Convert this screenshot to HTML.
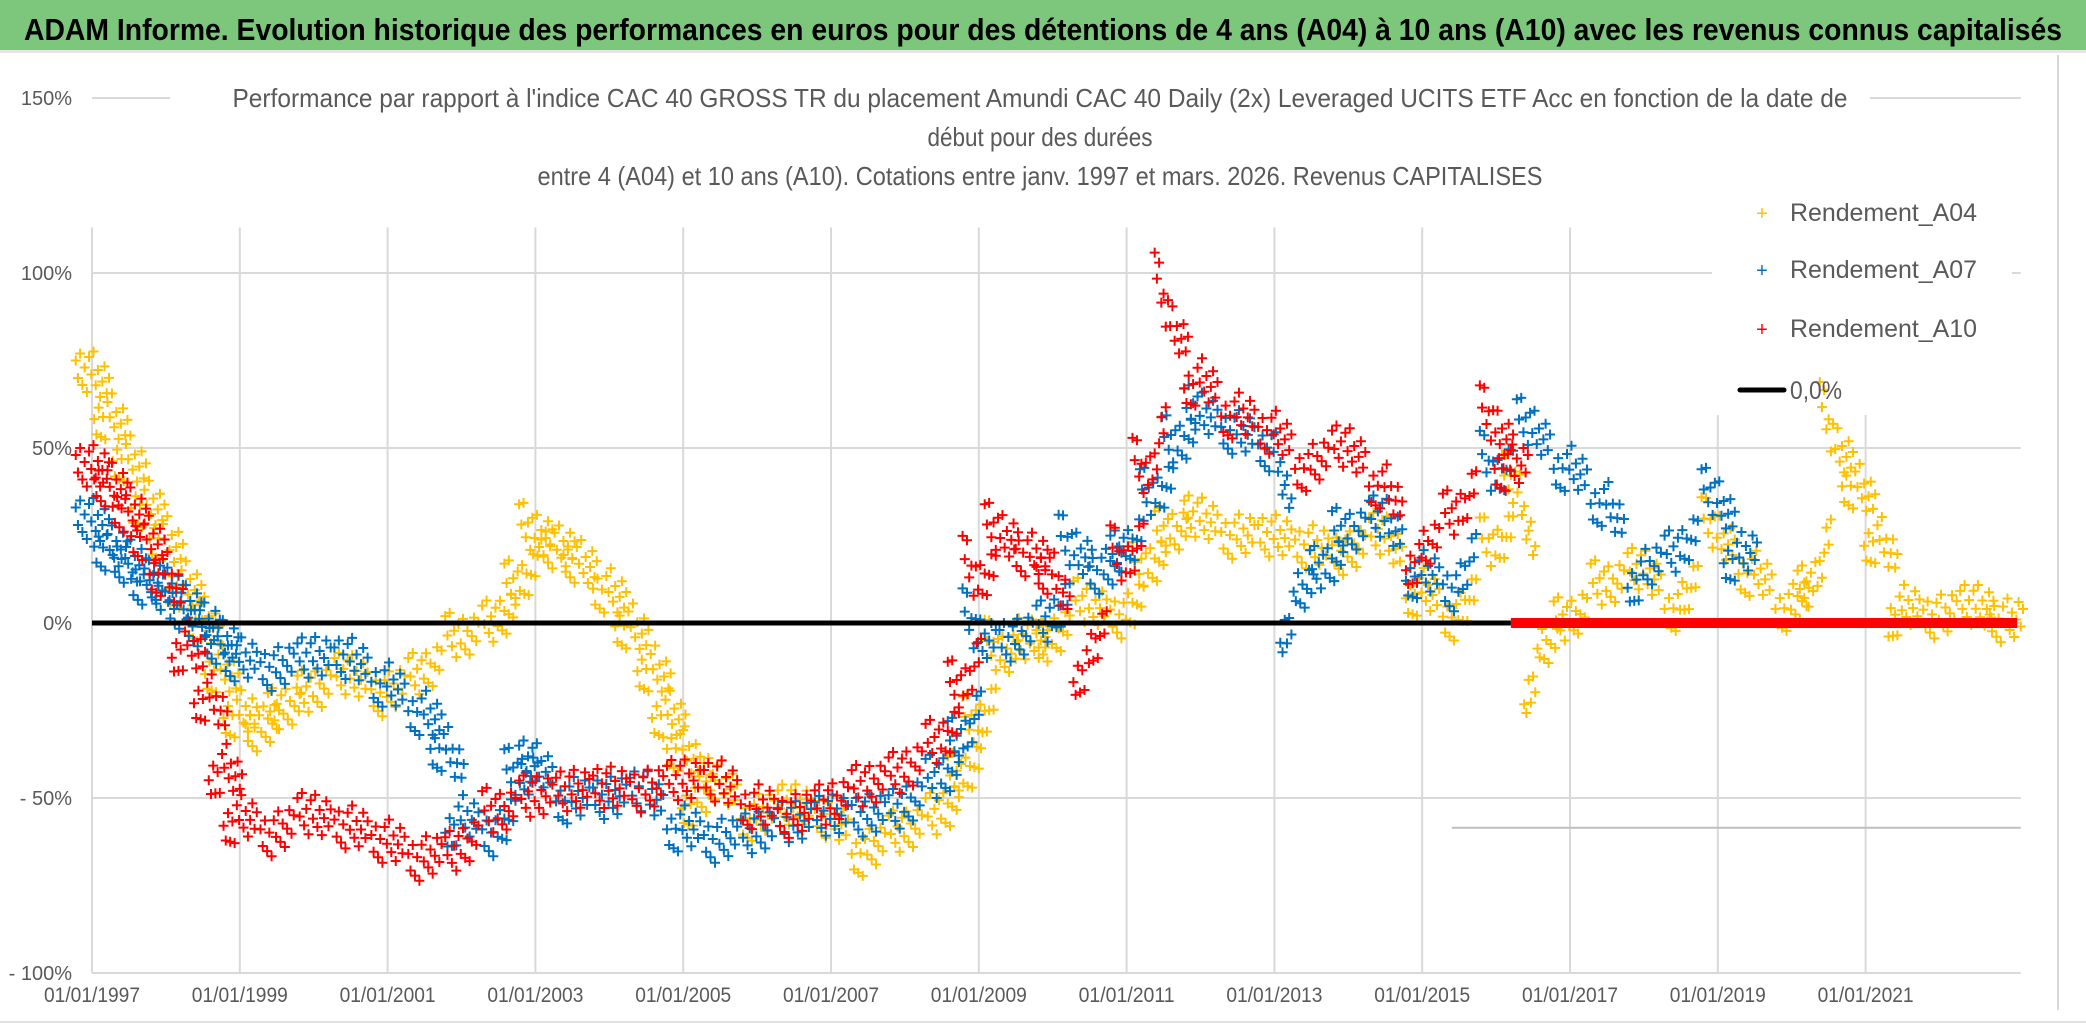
<!DOCTYPE html>
<html><head><meta charset="utf-8"><style>
html,body{margin:0;padding:0;background:#fff;}
svg{display:block;font-family:"Liberation Sans",sans-serif;}
</style></head><body>
<svg id="chart" width="2086" height="1031" viewBox="0 0 2086 1031">
<rect x="0" y="0" width="2086" height="1031" fill="#fff"/>
<rect x="0" y="0" width="2086" height="50" fill="#7dc77c"/>
<rect x="0" y="50" width="2086" height="3" fill="#e6e6e6"/>
<text x="24" y="40" font-size="31" font-weight="bold" fill="#000" textLength="2038" lengthAdjust="spacingAndGlyphs">ADAM Informe. Evolution historique des performances en euros pour des détentions de 4 ans (A04) à 10 ans (A10) avec les revenus connus capitalisés</text>
<g id="grid"></g>
<rect x="170" y="75" width="1700" height="120" fill="#fff"/>
<rect x="1712" y="180" width="300" height="235" fill="#fff"/>
<g id="marks"></g>
<g id="axes"></g>
<g fill="#595959" font-size="26" text-anchor="middle">
<text x="1040" y="107" textLength="1615" lengthAdjust="spacingAndGlyphs">Performance par rapport à l'indice CAC 40 GROSS TR  du placement Amundi CAC 40 Daily (2x) Leveraged UCITS ETF Acc en fonction de la date de</text>
<text x="1040" y="146" textLength="225" lengthAdjust="spacingAndGlyphs">début pour des durées</text>
<text x="1040" y="185" textLength="1005" lengthAdjust="spacingAndGlyphs">entre 4 (A04) et 10 ans (A10). Cotations entre janv. 1997 et mars. 2026. Revenus CAPITALISES</text>
</g>
<g id="legend" font-size="25" fill="#595959">
<g><text x="1762" y="220" fill="#ffc000" font-size="20" text-anchor="middle">+</text><text x="1790" y="221" textLength="187" lengthAdjust="spacingAndGlyphs">Rendement_A04</text></g>
<g><text x="1762" y="277" fill="#0070c0" font-size="20" text-anchor="middle">+</text><text x="1790" y="278" textLength="187" lengthAdjust="spacingAndGlyphs">Rendement_A07</text></g>
<g><text x="1762" y="336" fill="#ff0000" font-size="20" text-anchor="middle">+</text><text x="1790" y="337" textLength="187" lengthAdjust="spacingAndGlyphs">Rendement_A10</text></g>
<g><line x1="1740" y1="390" x2="1784" y2="390" stroke="#000" stroke-width="5" stroke-linecap="round"/><text x="1790" y="399" textLength="52" lengthAdjust="spacingAndGlyphs">0,0%</text></g>
</g>
<line x1="2058" y1="55" x2="2058" y2="1010" stroke="#d9d9d9" stroke-width="2"/>
<line x1="0" y1="1022" x2="2086" y2="1022" stroke="#e0e0e0" stroke-width="2"/>
</svg>
<script>
const yTicks=[150,100,50,0,-50,-100];
const yTickLabels=["150%","100%","50%","0%","- 50%","- 100%"];
const xTickYears=[1997,1999,2001,2003,2005,2007,2009,2011,2013,2015,2017,2019,2021];
const xTickLabels=["01/01/1997","01/01/1999","01/01/2001","01/01/2003","01/01/2005","01/01/2007","01/01/2009","01/01/2011","01/01/2013","01/01/2015","01/01/2017","01/01/2019","01/01/2021"];
const a04Dates=[1997,1997.25,1997.5,1997.75,1998,1998.25,1998.5,1998.75,1999,1999.3,1999.6,2000,2000.5,2001,2001.5,2002,2002.5,2002.8,2003,2003.3,2003.6,2004,2004.3,2004.6,2004.8,2005,2005.2,2005.5,2006,2006.5,2007,2007.5,2008,2008.5,2008.8,2009,2009.3,2009.7,2010,2010.5,2011,2011.3,2011.6,2012,2012.5,2013,2013.5,2014,2014.5,2015,2015.5,2016,2016.3,2016.6,2017,2017.5,2018,2018.5,2019,2019.5,2020,2020.3,2020.6,2020.9,2021.2,2021.5,2022,2022.5,2022.9];
const a04Values=[72,60,48,35,25,12,2,-12,-25,-30,-25,-20,-15,-20,-15,-5,0,10,25,22,18,10,0,-12,-25,-35,-50,-45,-55,-52,-55,-65,-60,-55,-45,-30,-10,-5,-5,5,2,15,25,30,25,25,22,20,25,10,2,20,38,-8,0,10,15,5,25,15,5,10,50,40,25,5,2,5,1];
const a07Dates=[1997,1997.25,1997.5,1997.75,1998,1998.25,1998.5,1998.75,1999,1999.5,2000,2000.5,2001,2001.5,2001.8,2002,2002.5,2002.8,2003,2003.5,2004,2004.5,2005,2005.5,2006,2006.5,2007,2007.5,2008,2008.5,2008.8,2009,2009.5,2010,2010.3,2010.7,2011,2011.4,2011.7,2012,2012.5,2013,2013.3,2013.7,2014,2014.5,2015,2015.5,2016,2016.5,2017,2017.5,2018,2018.5,2019,2019.3];
const a07Values=[30,22,18,12,10,5,0,-5,-10,-13,-10,-10,-17,-25,-35,-55,-60,-45,-40,-50,-50,-48,-58,-62,-60,-57,-55,-55,-53,-45,-35,-5,-5,0,20,15,20,35,50,60,55,50,8,15,25,30,15,10,40,55,45,35,15,20,35,20];
const a10Dates=[1997,1997.25,1997.5,1997.75,1998,1998.3,1998.6,1998.8,1999,1999.5,2000,2000.5,2001,2001.5,2002,2002.5,2003,2003.5,2004,2004.5,2005,2005.5,2006,2006.5,2007,2007.5,2008,2008.5,2008.8,2009,2009.3,2009.7,2010,2010.5,2011,2011.3,2011.6,2012,2012.5,2013,2013.5,2014,2014.5,2015,2015.5,2016,2016.2];
const a10Values=[45,40,33,25,15,-5,-20,-40,-55,-60,-55,-58,-62,-67,-65,-55,-50,-48,-47,-48,-45,-45,-52,-55,-52,-47,-43,-35,-20,10,25,20,15,-10,15,40,85,70,60,55,45,50,40,20,30,55,45];
const zeroStart=1997, zeroEnd=2016.2;

const NS="http://www.w3.org/2000/svg";
const X0=92, PXY=73.9, Y0=623, PXV=3.5;
function xs(yr){return X0+(yr-1997)*PXY;}
function ys(v){return Y0-v*PXV;}
const XR=xs(2023.1);
function el(tag,attrs,parent){const e=document.createElementNS(NS,tag);for(const k in attrs)e.setAttribute(k,attrs[k]);parent.appendChild(e);return e;}
const grid=document.getElementById('grid'), axes=document.getElementById('axes'), marks=document.getElementById('marks');
yTicks.forEach((t,i)=>{
  const l=el('line',{x1:X0,x2:XR,y1:ys(t),y2:ys(t),stroke:'#d9d9d9','stroke-width':2},grid);
  
  
  const tx=el('text',{x:X0-20,y:ys(t)+7,'text-anchor':'end','font-size':20,fill:'#595959'},axes);
  tx.textContent=yTickLabels[i];
  
  
});
xTickYears.forEach((yr,i)=>{
  const l=el('line',{x1:xs(yr),x2:xs(yr),y1:ys(-100),y2:ys(113),stroke:'#d9d9d9','stroke-width':2},grid);
  
  
  const tx=el('text',{x:xs(yr),y:1002,'text-anchor':'middle','font-size':21,fill:'#595959',textLength:96,lengthAdjust:'spacingAndGlyphs'},axes);
  tx.textContent=xTickLabels[i];
  
  
});
const gl=el('line',{x1:xs(2015.4),x2:XR,y1:ys(-58.5),y2:ys(-58.5),stroke:'#bfbfbf','stroke-width':2},grid);


// fixed cluster pattern (offset in years, offset in %)
const offX=[-0.22,-0.19,-0.16,-0.13,-0.1,-0.07,-0.04,-0.01,0.02,0.05,0.08,0.11,0.14,0.17,0.2,0.23];
const offY=[3,-2,5,-4,1,-6,4,-1,6,-3,2,-5,0,5,-2,3];
function series(dates,vals,color,name){
  const g=el('g',{stroke:color,'stroke-width':2},marks);
  
  
  dates.forEach((d,i)=>{
    const prev=i>0?vals[i-1]:vals[i], next=i<vals.length-1?vals[i+1]:vals[i];
    offX.forEach((ox,k)=>{
      const slope=ox<0?(vals[i]-prev):(next-vals[i]);
      const v=vals[i]+slope*Math.abs(ox)*2*0.9+offY[k];
      const x=xs(d+ox), y=ys(v);
      const p=el('path',{d:`M${x-5} ${y}h10M${x} ${y-5}v10`},g);
      
      
    });
  });
  return g;
}
series(a04Dates,a04Values,'#ffc000','series-a04');
series(a07Dates,a07Values,'#0070c0','series-a07');
series(a10Dates,a10Values,'#ff0000','series-a10');
const zl=el('line',{x1:xs(zeroStart),x2:xs(zeroEnd),y1:ys(0),y2:ys(0),stroke:'#000','stroke-width':5},marks);


const zr=el('rect',{x:xs(zeroEnd),y:ys(0)-5,width:xs(2023.05)-xs(zeroEnd),height:10,fill:'#ff0000'},marks);


</script>
</body></html>
